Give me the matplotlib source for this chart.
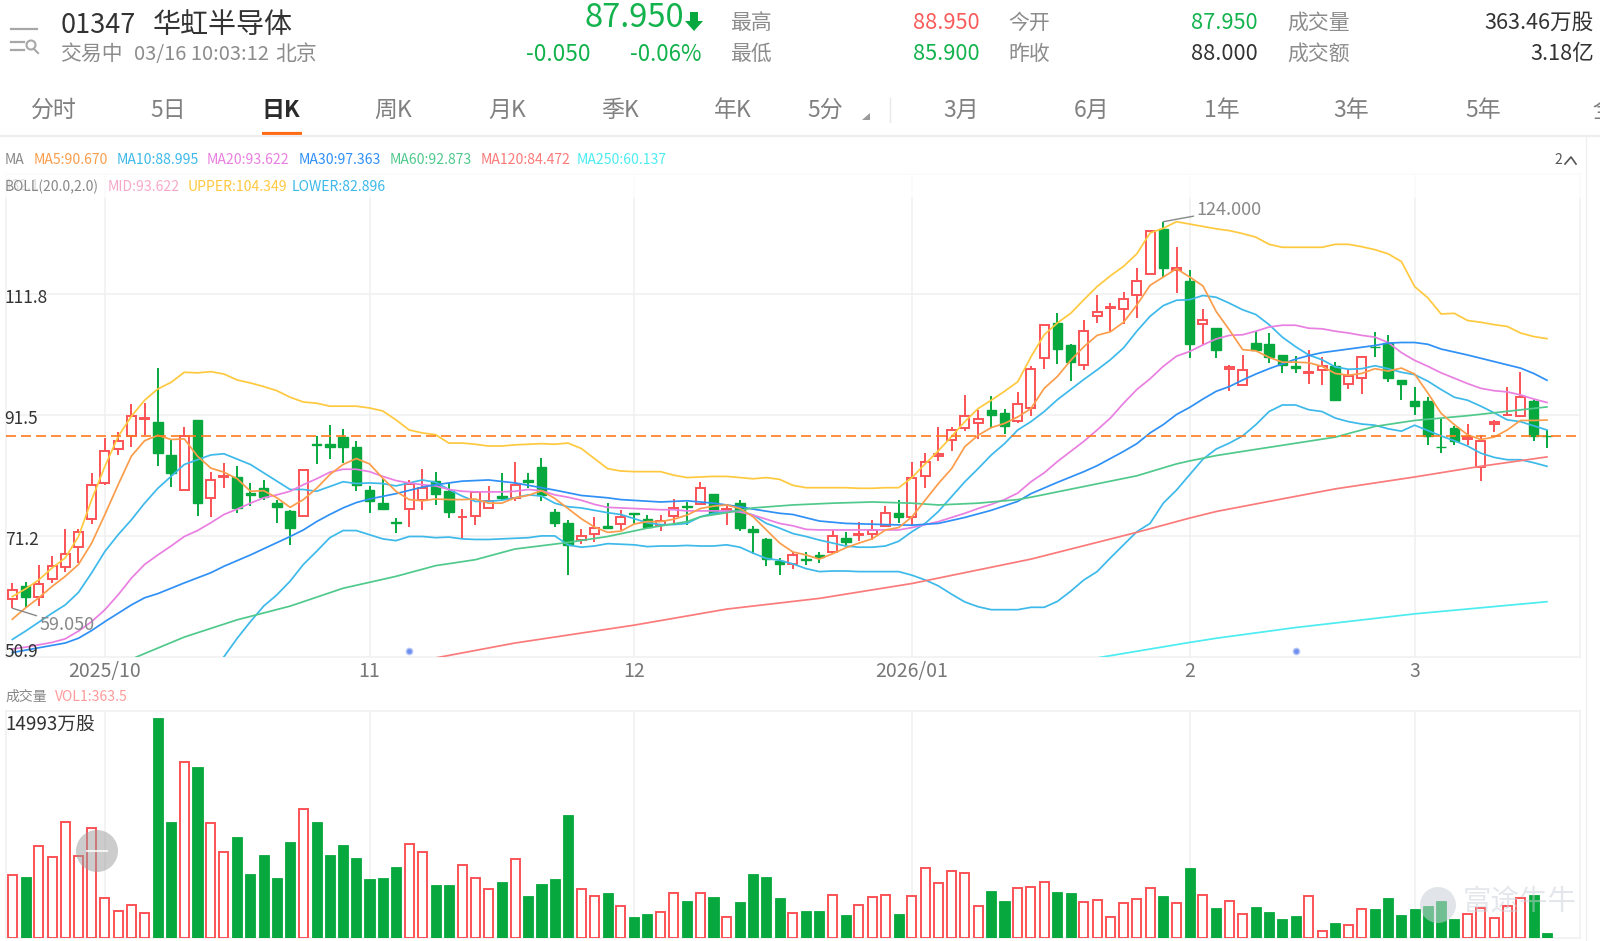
import matplotlib
matplotlib.use("Agg")
import matplotlib.pyplot as plt
import numpy as np
from matplotlib.patches import Circle, Polygon, Rectangle

plt.rcParams['font.family'] = ['Noto Sans CJK SC', 'DejaVu Sans']

W, H = 1600, 941

# daily candles, HK 01347
opens = [60.6, 62.7, 60.9, 64.0, 65.9, 69.3, 74.1, 80.1, 85.8, 88.0, 90.8, 90.3, 84.8, 78.9, 90.7, 77.6, 81.1, 81.1, 78.4, 79.2,
         76.8, 75.4, 74.6, 86.6, 86.6, 87.9, 86.1, 78.9, 76.8, 73.6, 75.8, 77.2, 80.4, 78.7, 74.3, 74.6, 75.9, 77.9, 77.6, 80.6,
         82.8, 75.3, 73.4, 70.5, 71.5, 72.8, 73.2, 75.0, 74.0, 73.0, 74.6, 76.2, 76.5, 78.2, 75.6, 76.7, 72.3, 70.6, 66.9, 66.4,
         67.4, 68.0, 68.5, 70.9, 71.3, 71.6, 72.9, 75.1, 74.3, 81.3, 84.7, 87.3, 89.4, 90.2, 92.3, 91.8, 90.5, 92.7, 101.1, 106.9,
         103.3, 99.9, 108.1, 109.5, 109.3, 111.6, 115.2, 122.8, 115.9, 114.0, 106.8, 106.1, 99.3, 96.6, 103.6, 103.5, 101.6, 99.7, 98.6, 99.1,
         99.8, 96.7, 97.8, 103.0, 103.6, 97.4, 93.8, 93.8, 86.2, 89.4, 87.4, 82.7, 90.0, 91.5, 91.3, 93.8, 87.95]
closes = [62.1, 60.9, 63.1, 66.1, 68.1, 71.9, 79.8, 85.5, 87.2, 91.3, 91.0, 85.2, 81.7, 88.0, 76.8, 80.6, 81.3, 75.9, 78.0, 77.8,
          76.0, 72.5, 82.2, 86.4, 86.2, 86.2, 79.8, 77.0, 75.8, 73.4, 80.0, 79.2, 78.2, 75.3, 74.4, 78.5, 77.1, 77.6, 79.8, 80.2,
          78.1, 73.3, 69.7, 71.1, 72.5, 72.6, 74.3, 74.8, 72.7, 73.7, 75.9, 76.0, 79.2, 75.1, 75.8, 72.5, 71.9, 67.3, 66.4, 68.0,
          67.1, 67.7, 71.1, 70.2, 71.5, 72.2, 75.0, 74.3, 81.0, 83.7, 84.9, 89.0, 91.4, 90.9, 91.6, 89.7, 93.3, 99.2, 106.7, 102.6,
          100.5, 105.6, 108.9, 109.7, 111.0, 114.0, 122.5, 116.2, 116.3, 103.4, 107.5, 102.4, 99.5, 99.0, 102.5, 101.3, 99.9, 99.4, 98.7, 99.7,
          94.1, 98.1, 101.2, 102.9, 97.8, 96.8, 93.0, 88.0, 86.1, 87.2, 87.8, 87.1, 90.4, 91.6, 94.6, 88.0, 87.95]
highs = [63.3, 63.4, 66.3, 67.9, 72.3, 72.3, 81.8, 87.6, 88.6, 93.4, 93.6, 99.4, 87.3, 89.5, 90.7, 82.0, 83.4, 83.0, 80.1, 80.6,
         77.3, 75.6, 82.3, 88.0, 89.8, 89.2, 87.1, 79.6, 80.8, 74.2, 80.6, 82.5, 82.0, 80.1, 75.7, 78.7, 79.6, 81.8, 83.6, 81.8,
         84.3, 75.8, 73.9, 72.3, 74.4, 76.8, 75.5, 75.1, 74.7, 74.7, 77.4, 76.9, 80.2, 78.2, 76.5, 77.2, 72.9, 70.9, 67.5, 68.5,
         68.5, 68.5, 72.2, 71.8, 73.6, 73.9, 76.2, 77.3, 83.7, 85.2, 89.5, 89.5, 94.9, 92.3, 94.7, 92.5, 95.4, 99.8, 106.7, 108.6,
         103.5, 107.4, 111.6, 110.3, 112.2, 116.2, 122.5, 124.0, 119.7, 115.9, 109.4, 106.1, 99.9, 101.6, 105.6, 105.3, 101.6, 101.5, 102.5, 101.2,
         100.4, 99.3, 101.4, 105.4, 104.9, 97.4, 96.3, 94.5, 90.8, 89.6, 90.0, 88.2, 90.6, 96.2, 98.8, 94.0, 88.95]
lows = [59.05, 59.1, 59.5, 63.3, 65.2, 66.6, 73.2, 79.8, 84.8, 86.1, 88.2, 83.0, 79.5, 78.9, 74.6, 74.3, 79.2, 75.0, 76.2, 77.2,
        73.3, 69.7, 74.5, 83.3, 84.1, 83.4, 78.7, 75.0, 75.7, 71.7, 72.7, 75.5, 76.4, 74.2, 70.9, 73.1, 75.9, 77.0, 77.0, 79.3,
        77.1, 72.7, 64.6, 69.8, 70.1, 72.5, 72.2, 73.2, 72.6, 72.0, 73.2, 73.0, 76.4, 75.1, 73.1, 72.0, 68.1, 66.1, 64.7, 65.7,
        66.3, 66.7, 68.4, 69.7, 70.4, 70.5, 72.7, 73.3, 73.0, 79.2, 83.8, 85.5, 88.9, 87.4, 89.3, 88.4, 90.2, 91.3, 99.3, 100.1,
        97.2, 99.0, 107.0, 105.6, 106.8, 107.8, 115.2, 114.7, 112.1, 101.1, 103.2, 101.1, 95.6, 96.5, 102.3, 100.3, 98.5, 98.6, 96.7, 96.6,
        93.9, 95.9, 95.1, 101.2, 97.0, 94.1, 91.6, 86.4, 85.1, 86.4, 86.5, 80.5, 88.6, 91.3, 91.2, 87.1, 85.9]
volumes = [4281, 4145, 6274, 5527, 7928, 5595, 7475, 2718, 1880, 2265, 1699, 14993, 7928, 11959, 11665, 7860, 5844, 6908, 4371, 5640,
           4122, 6546, 8788, 7928, 5640, 6365, 5481, 4032, 4077, 4824, 6433, 5844, 3647, 3601, 5006, 4100, 3330, 3851, 5413, 2877,
           3692, 4032, 8381, 3375, 2899, 3058, 2197, 1472, 1631, 1789, 3103, 2559, 3103, 2809, 1472, 2446, 4349, 4190, 2741, 1744,
           1880, 1835, 2922, 1586, 2288, 2831, 2967, 1653, 2899, 4802, 3783, 4598, 4417, 2197, 3239, 2514, 3443, 3465, 3828, 3171,
           3058, 2469, 2605, 1472, 2401, 2695, 3398, 2877, 2401, 4757, 2945, 2039, 2559, 1653, 2129, 1812, 1314, 1540, 2901, 522,
           1065, 929, 1972, 1972, 2765, 1609, 1972, 2176, 2516, 1292, 1677, 2085, 1360, 2199, 2743, 2969, 363.5]

ma5 = [57.2, 59.1, 60.8, 62.7, 64.4, 66.4, 70.0, 74.8, 79.8, 84.6, 87.2, 88.1, 87.4, 87.5, 84.6, 82.6, 81.9, 80.8, 78.7, 78.8,
       77.6, 76.0, 77.3, 79.2, 81.5, 83.2, 84.2, 83.3, 80.9, 78.7, 77.3, 77.1, 77.4, 77.3, 77.3, 77.4, 76.7, 76.7, 77.6, 78.0,
       78.8, 77.5, 75.8, 74.1, 72.7, 71.8, 72.0, 73.2, 73.6, 73.6, 74.0, 74.7, 75.8, 76.2, 76.4, 75.8, 74.4, 72.2, 70.0, 68.5,
       68.0, 67.3, 68.2, 69.2, 70.0, 70.7, 72.2, 72.6, 74.4, 77.2, 80.0, 82.5, 86.2, 88.1, 89.4, 90.1, 91.2, 92.6, 96.0, 98.0,
       100.7, 103.0, 104.9, 105.5, 107.1, 110.0, 113.3, 114.7, 116.1, 114.7, 113.2, 108.9, 105.8, 102.5, 102.3, 101.2, 100.4, 100.4, 100.3, 99.7,
       98.5, 98.2, 98.5, 99.3, 98.9, 99.4, 98.4, 95.2, 91.8, 89.9, 88.2, 87.4, 87.8, 89.0, 90.6, 90.6, 90.67]
ma10 = [53.8, 55.2, 56.7, 58.2, 59.6, 61.7, 65.0, 68.6, 71.4, 73.9, 76.7, 79.2, 81.2, 83.2, 84.0, 84.8, 85.0, 84.1, 83.2, 81.8,
        80.4, 79.0, 79.0, 78.7, 79.5, 80.3, 80.0, 80.1, 80.0, 79.6, 80.1, 80.6, 80.2, 79.0, 77.9, 77.0, 77.0, 77.2, 77.6, 78.1,
        77.9, 76.7, 76.1, 75.9, 75.5, 75.1, 74.8, 74.1, 73.4, 73.1, 73.1, 73.3, 74.4, 75.0, 75.3, 75.4, 74.7, 73.3, 72.5, 71.6,
        71.1, 70.5, 70.0, 69.5, 69.3, 69.3, 69.5, 70.3, 71.9, 73.3, 75.3, 77.8, 80.3, 82.5, 84.8, 86.7, 89.0, 90.4, 92.1, 94.1,
        95.8, 97.5, 99.1, 100.8, 102.8, 105.6, 108.1, 109.9, 110.8, 110.9, 111.6, 111.3, 110.3, 109.2, 108.4, 106.7, 104.6, 103.0, 101.6, 100.8,
        99.6, 99.2, 99.3, 99.8, 99.3, 98.7, 98.3, 97.2, 95.8, 94.5, 94.0, 93.0, 91.9, 90.7, 90.4, 89.7, 89.0]
ma20 = [52.2, 52.5, 52.9, 53.3, 53.9, 55.2, 56.8, 58.8, 61.3, 64.1, 66.4, 68.0, 69.5, 71.1, 72.1, 73.4, 74.8, 75.7, 76.7, 77.6,
        78.1, 78.7, 79.8, 80.8, 81.9, 82.4, 82.4, 82.0, 81.2, 80.5, 80.1, 79.8, 79.6, 79.0, 78.7, 78.6, 78.6, 78.6, 78.7, 79.0,
        78.8, 78.1, 77.7, 77.2, 76.5, 76.0, 75.9, 75.8, 75.7, 75.6, 75.6, 75.4, 75.4, 75.4, 75.4, 75.2, 74.7, 74.0, 73.3, 72.9,
        72.3, 72.2, 72.2, 72.2, 72.2, 72.2, 72.2, 72.2, 72.6, 73.1, 73.6, 74.3, 75.0, 75.8, 76.5, 77.3, 78.4, 80.3, 81.8, 83.7,
        85.4, 87.1, 89.0, 91.0, 93.5, 95.8, 97.6, 99.7, 101.4, 102.2, 103.3, 104.3, 104.9, 105.0, 105.6, 106.3, 106.6, 106.6, 106.1, 106.0,
        105.6, 105.3, 104.9, 104.6, 103.7, 102.0, 100.7, 99.7, 98.6, 97.7, 96.8, 96.0, 95.6, 95.4, 94.9, 94.2, 93.62]
upper = [61.0, 62.3, 63.8, 65.8, 67.5, 71.1, 77.3, 82.9, 87.9, 91.3, 94.0, 95.9, 97.0, 98.7, 98.6, 98.8, 98.4, 97.4, 96.9, 96.3,
         95.6, 94.5, 93.7, 93.5, 93.0, 93.0, 93.0, 92.7, 92.2, 90.7, 89.0, 88.5, 88.2, 86.8, 86.8, 86.6, 86.3, 86.3, 86.5, 86.6,
         86.7, 86.6, 86.8, 85.9, 84.2, 82.5, 82.1, 82.0, 82.0, 82.0, 81.4, 81.0, 81.1, 81.2, 81.2, 81.0, 80.8, 81.0, 80.7, 79.7,
         79.3, 79.3, 79.3, 79.3, 79.2, 79.2, 79.3, 79.3, 81.0, 83.3, 85.5, 87.9, 90.4, 92.6, 94.0, 95.5, 97.1, 101.3, 105.0, 107.0,
         108.6, 110.9, 113.1, 114.9, 116.5, 118.6, 122.1, 122.9, 124.0, 123.6, 123.2, 122.8, 122.5, 122.0, 121.4, 120.2, 119.7, 119.7, 119.7, 119.7,
         120.2, 120.2, 119.8, 119.3, 118.6, 117.3, 113.1, 111.2, 108.5, 108.6, 107.4, 107.1, 106.7, 106.4, 105.3, 104.7, 104.35]
lower_idx = list(range(15, 117))
lower = [47.9, 50.9, 54.0, 56.8, 59.4, 61.3, 63.6, 66.4, 68.6, 70.9, 72.1, 72.1, 71.4, 70.7, 70.4, 71.1, 71.1, 70.9, 71.0, 70.7,
         70.6, 70.6, 70.7, 70.8, 70.9, 71.2, 71.2, 69.7, 69.3, 69.5, 69.9, 69.8, 69.7, 69.4, 69.5, 69.5, 69.6, 69.5, 69.5, 69.7,
         69.3, 68.3, 67.4, 67.1, 66.5, 65.7, 65.2, 65.3, 65.3, 65.2, 65.2, 65.2, 65.2, 64.6, 63.8, 62.8, 61.4, 60.1, 59.3, 58.8,
         58.8, 58.8, 59.2, 59.2, 60.2, 61.9, 63.8, 65.2, 67.5, 69.7, 71.9, 73.3, 76.7, 78.9, 81.5, 84.1, 85.8, 86.8, 88.0, 89.9,
         92.1, 93.2, 93.2, 92.4, 92.1, 91.0, 90.4, 90.0, 89.8, 89.2, 88.8, 89.8, 88.9, 88.0, 87.2, 86.3, 85.1, 84.4, 84.0, 84.0,
         83.5, 82.9]

# the slow averages were read at fewer points
ma30_idx = [0, 4, 5, 6, 7, 8, 9, 10, 11, 13, 15, 16, 18, 21, 22, 23, 24, 25, 26, 27, 29, 31, 32, 34, 36, 38,
            41, 43, 45, 46, 49, 51, 53, 55, 56, 58, 59, 61, 63, 66, 68, 70, 72, 74, 76, 77, 79, 81, 82, 84, 85, 86, 87, 88, 89, 90,
            91, 92, 93, 94, 95, 96, 97, 98, 99, 100, 102, 103, 104, 105, 106, 107, 108, 110, 112, 114, 115, 116]
ma30 = [51.6, 53.2, 54.0, 55.3, 56.8, 58.2, 59.6, 60.8, 61.5, 63.3, 65.0, 66.1, 68.0, 71.1, 72.2, 73.6, 74.8, 75.9, 76.8, 77.4, 78.3, 79.4, 79.8, 80.4, 80.6, 80.1,
        78.9, 78.0, 77.6, 77.3, 76.9, 77.1, 76.7, 76.1, 75.7, 75.0, 74.8, 73.7, 73.3, 73.1, 73.0, 73.3, 74.3, 75.5, 77.0, 78.3, 80.2, 82.0, 83.0, 85.4, 86.7, 88.5, 89.9, 91.6, 92.8, 94.2,
        95.5, 96.3, 97.4, 98.4, 99.3, 100.1, 100.9, 101.5, 102.0, 102.3, 102.9, 103.2, 103.6, 103.7, 103.7, 103.4, 102.6, 101.6, 100.5, 99.4, 98.5, 97.36]
ma60_idx = [9, 13, 17, 21, 25, 29, 32, 35, 38, 42, 45, 48, 51, 52, 54, 56, 59, 62, 65, 68, 70, 73, 76, 77, 85, 88, 89, 91, 93, 100, 103, 106, 110, 116]
ma60 = [50.5, 54.2, 57.1, 59.4, 62.4, 64.4, 66.2, 67.2, 69.0, 70.1, 71.1, 72.5, 73.6, 74.4, 75.1, 75.9, 76.4, 76.7, 76.9, 76.7, 76.4, 76.7, 77.3, 77.7,
        81.3, 83.3, 83.8, 84.7, 85.4, 87.8, 89.6, 90.6, 91.4, 92.87]
ma120_idx = [32, 38, 47, 54, 61, 68, 77, 85, 89, 91, 95, 100, 106, 111, 116]
ma120 = [50.7, 53.2, 56.2, 58.9, 60.7, 63.2, 67.3, 71.8, 74.2, 75.3, 77.0, 79.1, 81.1, 82.9, 84.47]
ma250_idx = [82, 89, 91, 97, 106, 116]
ma250 = [50.7, 53.3, 54.0, 55.8, 58.1, 60.14]

event_idx = [30, 97]
event_price = [51.9, 51.9]

month_idx = [7, 27, 47, 68, 89, 106]
month_labels = ['2025/10', '11', '12', '2026/01', '2', '3']
price_ticks = [71.2, 91.5, 111.8, 132.1]
last_price = 87.95

RED = '#fb5256'
GREEN = '#07a93f'
GRID = '#f0f0f0'
LW = 1.25


def px_axes(left, top, right, bottom):
    return fig.add_axes([left / W, 1 - bottom / H, (right - left) / W, (bottom - top) / H])


def style_axes(ax):
    ax.set_xlim(-0.5, 118.5)
    ax.set_xticks(month_idx)
    ax.grid(True, color=GRID, lw=1.1)
    ax.set_axisbelow(True)
    ax.tick_params(length=0)
    for s in ax.spines.values():
        s.set_color(GRID)
        s.set_linewidth(1.1)


fig = plt.figure(figsize=(W / 100, H / 100), dpi=100, facecolor='white')
x = np.arange(len(opens))
o, c, hi, lo = map(np.array, (opens, closes, highs, lows))
up = c > o

# price panel
ax = px_axes(5.7, 173.5, 1580, 656.7)
style_axes(ax)
ax.set_ylim(50.9, 132.1)
ax.set_yticks(price_ticks)
ax.set_yticklabels([])
ax.set_xticklabels(month_labels, fontsize=14, color='#777777')
ax.tick_params(axis='x', pad=3)

ax.vlines(x[up], lo[up], hi[up], color=RED, lw=1.4, zorder=2)
ax.vlines(x[~up], lo[~up], hi[~up], color=GREEN, lw=1.4, zorder=2)
ax.bar(x[up], (c - o)[up], bottom=o[up], width=0.68, facecolor='white', edgecolor=RED, lw=1.4, zorder=3)
ax.bar(x[~up], (o - c)[~up], bottom=c[~up], width=0.72, facecolor=GREEN, edgecolor=GREEN, lw=1, zorder=3)

ax.plot(x, upper, color='#ffc93f', lw=LW, zorder=4)
ax.plot(lower_idx, lower, color='#3db9ea', lw=LW, zorder=4)
ax.plot(x, ma10, color='#3db9ea', lw=LW, zorder=4)
ax.plot(x, ma20, color='#e97fe0', lw=LW, zorder=4)
ax.plot(ma30_idx, ma30, color='#2f90f5', lw=LW, zorder=4)
ax.plot(ma60_idx, ma60, color='#50c98c', lw=LW, zorder=4)
ax.plot(ma120_idx, ma120, color='#fb7a7a', lw=LW, zorder=4)
ax.plot(ma250_idx, ma250, color='#4cecf0', lw=LW, zorder=4)
ax.plot(x, ma5, color='#fb9d4b', lw=LW, zorder=5)
ax.axhline(last_price, color='#ff7a1f', lw=1.2, ls=(0, (6, 3)), zorder=6)
ax.plot(event_idx, event_price, 'o', ms=4.5, mfc='#6f8ff0', mec='#b5c5f5', mew=1, zorder=6)

for p in [111.8, 91.5, 71.2]:
    ax.annotate(f'{p}', (0, p), xycoords=ax.get_yaxis_transform(), xytext=(-1, -4), textcoords='offset pixels',
                fontsize=12.5, color='#333333', va='center', ha='left', zorder=7)
ax.annotate('50.9', (0, 50.9), xycoords=ax.get_yaxis_transform(), xytext=(-1, 5), textcoords='offset pixels',
            fontsize=12.5, color='#333333', va='center', ha='left', zorder=7)

ax.annotate('124.000', (87, 124.0), xytext=(33, 12), textcoords='offset pixels', fontsize=13, color='#888888',
            va='center', ha='left', zorder=7,
            arrowprops=dict(arrowstyle='-', color='#888888', lw=1, shrinkA=0, shrinkB=0))
ax.annotate('59.050', (0, 59.05), xytext=(27, -17), textcoords='offset pixels', fontsize=13, color='#888888',
            va='center', ha='left', zorder=7,
            arrowprops=dict(arrowstyle='-', color='#888888', lw=1, shrinkA=0, shrinkB=0))

# volume panel
vax = px_axes(5.7, 710.7, 1580, 938.3)
style_axes(vax)
vax.set_ylim(0, 15469)
vax.set_yticks([])
vax.set_xticklabels([])
v = np.array(volumes)
vax.bar(x[up], v[up], width=0.68, facecolor='white', edgecolor=RED, lw=1.4, zorder=3)
vax.bar(x[~up], v[~up], width=0.76, facecolor=GREEN, edgecolor=GREEN, lw=0.6, zorder=3)
vax.text(0, 0.986, '14993万股', transform=vax.transAxes, fontsize=13.5, color='#333333', va='top', ha='left', zorder=5)

# header, tabs, legends and badges, in pixel coordinates
ov = fig.add_axes([0, 0, 1, 1], zorder=10)
ov.set_xlim(0, W)
ov.set_ylim(H, 0)
ov.axis('off')


def label(px, py, s, size, color, ha='left', **kw):
    ov.text(px, py + 2, s, fontsize=size, color=color, ha=ha, va='center', **kw)


GREY = '#8c8c8c'
DARK = '#333333'
UPG = '#12b24c'

# the legend strip washes out the grid lines behind it
ov.add_patch(Rectangle((0, 172), 1581, 26, fc='white', ec='none', alpha=0.7))

ov.plot([11, 37], [29, 29], color='#a8a8a8', lw=1.6)
ov.plot([11, 24], [42, 42], color='#a8a8a8', lw=1.6)
ov.plot([11, 24], [50, 50], color='#a8a8a8', lw=1.6)
ov.add_patch(Circle((31, 45), 4.5, fc='none', ec='#a8a8a8', lw=1.5))
ov.plot([34, 38], [49, 53], color='#a8a8a8', lw=1.5)

label(61, 23, '01347', 19.5, DARK)
label(153, 23, '华虹半导体', 20.2, DARK)
label(60, 52, '交易中', 15, GREY)
label(134, 52, '03/16 10:03:12', 14.5, GREY)
label(275, 52, '北京', 15, GREY)
label(584, 16, '87.950', 23.5, UPG)
ov.add_patch(Polygon([(690, 12), (698, 12), (698, 21), (703, 21), (694, 31), (685, 21), (690, 21)], fc='#07a93f', ec='none'))
label(526, 52, '-0.050', 16.3, UPG)
label(630, 52, '-0.06%', 16, UPG)

label(730, 21, '最高', 15, GREY)
label(730, 52, '最低', 15, GREY)
label(980, 21, '88.950', 15.7, '#f95b5b', ha='right')
label(980, 52, '85.900', 15.7, UPG, ha='right')
label(1008, 21, '今开', 15, GREY)
label(1008, 52, '昨收', 15, GREY)
label(1258, 21, '87.950', 15.7, UPG, ha='right')
label(1258, 52, '88.000', 15.7, DARK, ha='right')
label(1287, 21, '成交量', 15, GREY)
label(1287, 52, '成交额', 15, GREY)
label(1594, 21, '363.46万股', 15.6, DARK, ha='right')
label(1594, 52, '3.18亿', 15.6, DARK, ha='right')

tab_x = [54, 168, 393, 507, 620, 733, 825, 961, 1092, 1222, 1351, 1483]
tab_names = ['分时', '5日', '周K', '月K', '季K', '年K', '5分', '3月', '6月', '1年', '3年', '5年']
for tx, name in zip(tab_x, tab_names):
    label(tx, 108, name, 16.5, '#808080', ha='center')
label(281, 108, '日K', 16.5, '#2b2b2b', ha='center', fontweight='bold')
label(1592, 108, '全', 16.5, '#808080')
ov.plot([262, 302], [133.5, 133.5], color='#ff6a13', lw=3, solid_capstyle='butt')
ov.add_patch(Polygon([(870, 113), (870, 120), (862, 120)], fc='#9a9a9a', ec='none'))
ov.plot([890, 890], [98, 122], color='#e8e8e8', lw=1)
ov.plot([0, W], [136, 136], color='#eeeeee', lw=1.6)
ov.plot([1586, 1586], [137, H], color='#f0f0f0', lw=1)

label(5, 158, 'MA', 10, '#888888')
ma_legend = [(34, 'MA5:90.670', '#fb9d4b'), (117, 'MA10:88.995', '#3db9ea'), (207, 'MA20:93.622', '#e97fe0'),
             (299, 'MA30:97.363', '#2f90f5'), (390, 'MA60:92.873', '#50c98c'), (481, 'MA120:84.472', '#fb7a7a'),
             (577, 'MA250:60.137', '#4cecf0')]
for lx, s, col in ma_legend:
    label(lx, 158, s, 10.1, col)
label(5, 184, '132.1', 10, '#dddddd')
label(5, 185, 'BOLL(20.0,2.0)', 10, '#888888')
label(108, 185, 'MID:93.622', 10.1, '#f7a8c8')
label(188, 185, 'UPPER:104.349', 10.1, '#ffc93f')
label(292, 185, 'LOWER:82.896', 10.1, '#3db9ea')
label(1554, 158, '2', 10, '#555555')
ov.plot([1565, 1571, 1576], [164, 157, 164], color='#555555', lw=1.2)

label(5, 695, '成交量', 10, '#888888')
label(55, 695, 'VOL1:363.5', 10.1, '#ff9a9a')

ov.add_patch(Circle((97, 851), 21, fc='#9a9a9a', ec='none', alpha=0.5))
ov.plot([87, 107], [851, 851], color='white', lw=1.5, alpha=0.8)

ov.add_patch(Circle((1438, 905), 18, fc='#c9d1d8', ec='none', alpha=0.55))
label(1463, 900, '富途牛牛', 20.5, '#c9d1d8', alpha=0.5)

fig.savefig('out.png', dpi=100, facecolor='white')
